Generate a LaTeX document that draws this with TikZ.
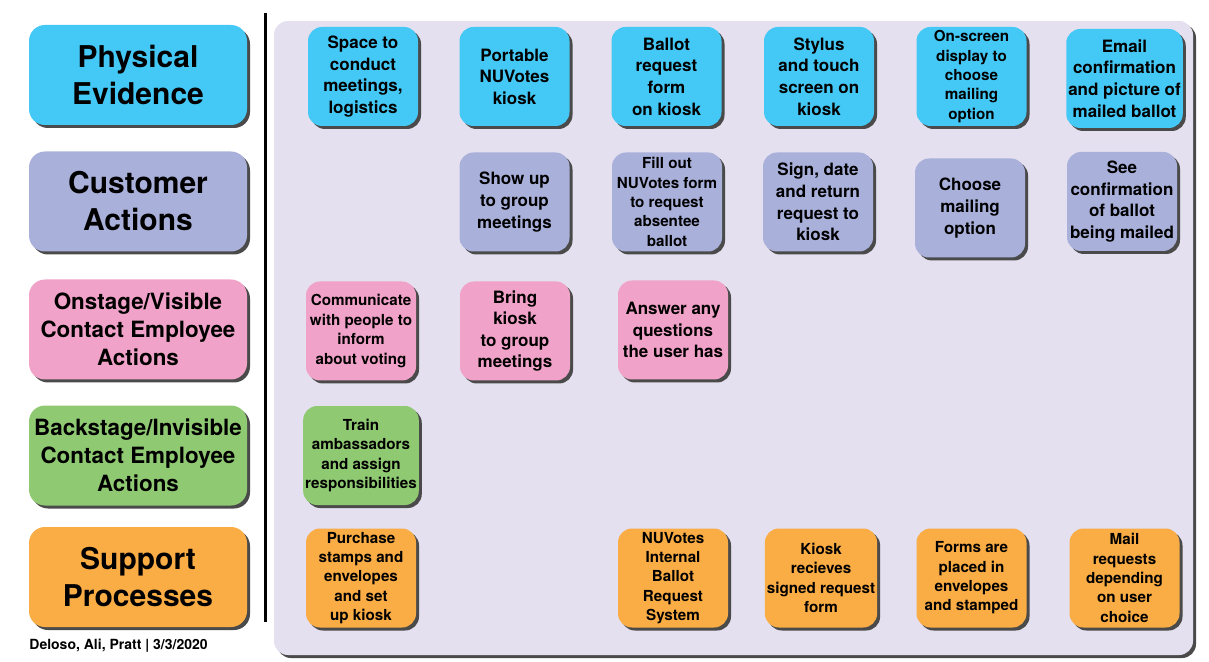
\documentclass[tikz,border=0pt]{standalone}
\usepackage{fontspec}
\setmainfont{TeX Gyre Heros}
\usetikzlibrary{shadows}
\definecolor{pecol}{HTML}{44C8F5}
\definecolor{cacol}{HTML}{A9B0DA}
\definecolor{oncol}{HTML}{F1A2C8}
\definecolor{bkcol}{HTML}{8FC972}
\definecolor{spcol}{HTML}{FAAC45}
\definecolor{panelcol}{HTML}{E4E0EF}
\definecolor{shadecol}{HTML}{4A4A4A}

\begin{document}
\begin{tikzpicture}[x=0.5pt, y=-0.5pt,
  shade/.style={drop shadow={shadow xshift=1.5pt, shadow yshift=-1.5pt, fill=shadecol, opacity=1}},
  lane/.style={shade, rounded corners=8pt, minimum width=109pt, minimum height=50pt, align=center, inner sep=1pt, font=\fontsize{15}{18.5}\selectfont\bfseries},
  lanesmall/.style={font=\fontsize{11.2}{14}\selectfont\bfseries},
  card/.style={shade, rounded corners=7pt, minimum width=55pt, minimum height=49.5pt, align=center, inner sep=1pt, font=\fontsize{8.5}{10.8}\selectfont\bfseries},
  small/.style={font=\fontsize{7.6}{9.7}\selectfont\bfseries}]
  \useasboundingbox (0,0) rectangle (1209,662);

  % panel and divider
  \fill[shade, panelcol, rounded corners=7pt] (274,21) rectangle (1193,655);
  \draw[line width=1.5pt] (265,13) -- (265,622);

  % lanes
  \node[lane, fill=pecol] (lpe) at (138,75) {Physical\\Evidence};
  \node[lane, fill=cacol] (lca) at (138,201.5) {Customer\\Actions};
  \node[lane, lanesmall, fill=oncol] (lon) at (138,329.5) {Onstage/Visible\\Contact Employee\\Actions};
  \node[lane, lanesmall, fill=bkcol] (lbk) at (138,455.5) {Backstage/Invisible\\Contact Employee\\Actions};
  \node[lane, fill=spcol] (lsp) at (138,577) {Support\\Processes};

  % physical evidence
  \node[card, fill=pecol] (pe1) at (363,76.5) {Space to\\conduct\\meetings,\\logistics};
  \node[card, fill=pecol] (pe2) at (514.5,76.5) {Portable\\NUVotes\\kiosk};
  \node[card, fill=pecol] (pe3) at (666.5,76.5) {Ballot\\request\\form\\on kiosk};
  \node[card, fill=pecol] (pe4) at (819,76.5) {Stylus\\and touch\\screen on\\kiosk};
  \node[card, small, fill=pecol] (pe5) at (971.5,76.5) {On-screen\\display to\\choose\\mailing\\option};
  \node[card, fill=pecol] (pe6) at (1124.5,78.5) {Email\\confirmation\\and picture of\\mailed ballot};

  % customer actions
  \node[card, fill=cacol] (ca2) at (514.5,202) {Show up\\to group\\meetings};
  \node[card, small, fill=cacol] (ca3) at (667,202) {Fill out\\NUVotes form\\to request\\absentee\\ballot};
  \node[card, fill=cacol] (ca4) at (818,202) {Sign, date\\and return\\request to\\kiosk};
  \node[card, fill=cacol] (ca5) at (970,208) {Choose\\mailing\\option};
  \node[card, fill=cacol] (ca6) at (1122,201.5) {See\\confirmation\\of ballot\\being mailed};

  % onstage
  \node[card, small, fill=oncol] (on1) at (361,331) {Communicate\\with people to\\inform\\about voting};
  \node[card, fill=oncol] (on2) at (515,331) {Bring\\kiosk\\to group\\meetings};
  \node[card, fill=oncol] (on3) at (673,330) {Answer any\\questions\\the user has};

  % backstage
  \node[card, small, fill=bkcol] (bk1) at (361,455.5) {Train\\ambassadors\\and assign\\responsibilities};

  % support processes
  \node[card, small, fill=spcol] (sp1) at (361,578) {Purchase\\stamps and\\envelopes\\and set\\up kiosk};
  \node[card, small, fill=spcol] (sp3) at (673,578) {NUVotes\\Internal\\Ballot\\Request\\System};
  \node[card, small, fill=spcol] (sp4) at (821,578) {Kiosk\\recieves\\signed request\\form};
  \node[card, small, fill=spcol] (sp5) at (971.5,578) {Forms are\\placed in\\envelopes\\and stamped};
  \node[card, small, fill=spcol] (sp6) at (1124.5,578) {Mail\\requests\\depending\\on user\\choice};

  \node[anchor=west, inner sep=0pt, font=\fontsize{7}{8}\selectfont\bfseries] (credit) at (29,646) {Deloso, Ali, Pratt | 3/3/2020};
\end{tikzpicture}
\end{document}
